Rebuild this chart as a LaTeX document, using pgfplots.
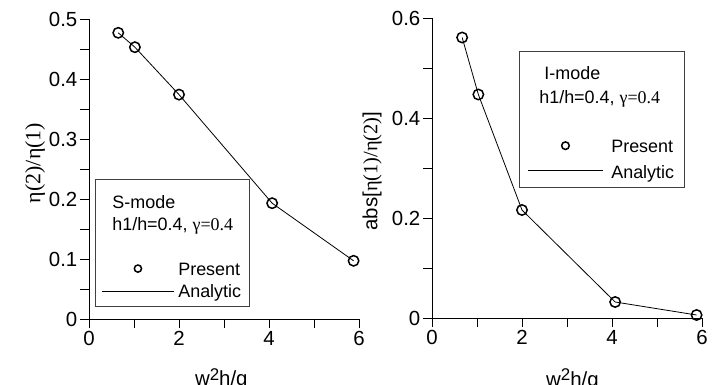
\documentclass[border=0pt]{standalone}
\usepackage{pgfplots}
\pgfplotsset{compat=1.18}
\usepackage{fontspec}
\setmainfont{Liberation Sans}
\newfontfamily\serif{Liberation Serif}

\pgfplotsset{
  myaxis/.style={
    scale only axis, width=270bp, height=300bp,
    xmin=0, xmax=6, ymin=0, clip=false,
    axis x line*=bottom, axis y line*=left,
    xtick={0,2,4,6}, xticklabels={0,2,4,6}, minor x tick num=1,
    tick align=outside, major tick length=9bp, minor tick length=9bp,
    every tick/.style={black, line width=0.8bp},
    axis line style={line width=0.8bp},
    tick label style={font=\fontsize{20.5}{20.5}\selectfont},
    yticklabel style={inner sep=2.5bp},
    /pgf/number format/assume math mode=true,
    label style={font=\fontsize{20.5}{24}\selectfont},
    legend style={draw=black!75, line width=1.2bp,
      inner xsep=7bp, inner ysep=5bp, nodes={inner sep=2bp},
      anchor=north west, font=\fontsize{18}{22}\selectfont},
    legend cell align=left,
  },
  mkstyle/.style={only marks, mark=o, mark size=5.2bp, line width=1.5bp, black},
  lnstyle/.style={no marks, black, line width=0.8bp},
  mkL/.style={legend image code/.code={\draw[##1, mark size=3.6bp] plot coordinates {(36bp,0bp)};}},
  lnL/.style={legend image code/.code={\draw[##1] (0bp,0bp) -- (72bp,0bp);}},
  mkR/.style={legend image code/.code={\draw[##1, mark size=3.8bp] plot coordinates {(37.5bp,0bp)};}},
  lnR/.style={legend image code/.code={\draw[##1] (0bp,0bp) -- (75bp,0bp);}},
}

\begin{document}
\begin{tikzpicture}
\useasboundingbox (0,0) rectangle (720bp,385bp);

\begin{axis}[myaxis, at={(89bp,66bp)}, anchor=south west,
  ymax=0.5, ytick={0,0.1,0.2,0.3,0.4,0.5}, yticklabels={0,0.1,0.2,0.3,0.4,0.5},
  minor y tick num=1,
  xlabel={w\raisebox{0.5ex}{\fontsize{17}{17}\selectfont 2}h/g},
  xlabel style={at={(rel axis cs:0.49,-0.223)}, anchor=base},
  ylabel={{\serif η(2)/η(1)}},
  ylabel style={at={(rel axis cs:-0.2,0.52)}, anchor=center, font=\fontsize{22}{24}\selectfont},
  legend style={at={(rel axis cs:0.022,0.467)}, row sep=1.5bp, column sep=2bp, inner xsep=6bp},
]
\addlegendimage{empty legend}\addlegendentry{\hspace*{-66bp}\rule{0pt}{22bp}S-mode\strut}
\addlegendimage{empty legend}\addlegendentry{\hspace*{-66bp}h1/h=0.4, {\serif γ=0.4}\strut}
\addlegendimage{empty legend}\addlegendentry{\strut}
\addplot[mkstyle, mkL]
  coordinates {(0.65,0.477) (1.02,0.453) (2.0,0.374) (4.07,0.193) (5.88,0.097)};
\addlegendentry{Present\strut}
\addplot[lnstyle, lnL]
  coordinates {(0.65,0.477) (1.02,0.453) (2.0,0.374) (4.07,0.193) (5.88,0.097)};
\addlegendentry{Analytic\strut}
\end{axis}

\begin{axis}[myaxis, at={(432bp,67bp)}, anchor=south west,
  ymax=0.6, ytick={0,0.2,0.4,0.6}, yticklabels={0,0.2,0.4,0.6},
  minor y tick num=1,
  xlabel={w\raisebox{0.5ex}{\fontsize{17}{17}\selectfont 2}h/g},
  xlabel style={at={(rel axis cs:0.52,-0.227)}, anchor=base},
  ylabel={abs[{\serif η(1)/η(2)}]},
  ylabel style={at={(rel axis cs:-0.222,0.49)}, anchor=center},
  legend style={at={(rel axis cs:0.322,0.89)}, inner xsep=8bp, column sep=6bp, row sep=3.5bp},
]
\addlegendimage{empty legend}\addlegendentry{\hspace*{-75bp}\rule{0pt}{21bp}I-mode\strut}
\addlegendimage{empty legend}\addlegendentry{\hspace*{-72bp}h1/h=0.4, {\serif γ=0.4}\strut}
\addlegendimage{empty legend}\addlegendentry{\strut}
\addplot[mkstyle, mkR]
  coordinates {(0.67,0.561) (1.03,0.447) (2.0,0.216) (4.07,0.032) (5.88,0.006)};
\addlegendentry{Present\strut}
\addplot[lnstyle, lnR]
  coordinates {(0.67,0.561) (1.03,0.447) (2.0,0.216) (4.07,0.032) (5.88,0.006)};
\addlegendentry{\rule{0pt}{17bp}Analytic\strut}
\end{axis}
\end{tikzpicture}
\end{document}
